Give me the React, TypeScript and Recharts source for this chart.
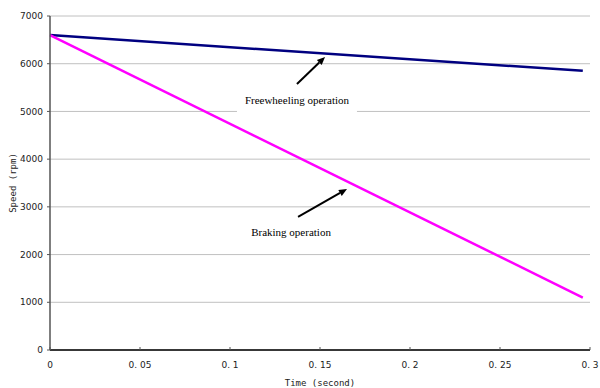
import { LineChart, Line, XAxis, YAxis, CartesianGrid, ReferenceLine } from "recharts";

const times = [0, 0.296];
const freewheeling = [6600, 5850];
const braking = [6600, 1100];
const xTicks = [0, 0.05, 0.1, 0.15, 0.2, 0.25, 0.3];
const yTicks = [0, 1000, 2000, 3000, 4000, 5000, 6000, 7000];

// annotation arrows: [x1, y1, x2, y2] in data units, plus label text
const notes = [
  { from: [0.1372, 5575], to: [0.1528, 6140], text: "Freewheeling operation", dx: 0, dy: 20, box: true },
  { from: [0.1378, 2790], to: [0.165, 3375], text: "Braking operation", dx: -7, dy: 19, box: false },
];

const data = times.map((t, i) => ({ t, free: freewheeling[i], brake: braking[i] }));

const arrowShape = (text: string, dx: number, dy: number, box: boolean) => (props: any) => {
  const { x1, y1, x2, y2 } = props;
  const ang = Math.atan2(y2 - y1, x2 - x1);
  const len = 8;
  const w = 3.5;
  const bx = x2 - len * Math.cos(ang);
  const by = y2 - len * Math.sin(ang);
  const px = -Math.sin(ang) * w;
  const py = Math.cos(ang) * w;
  return (
    <g>
      {box && <rect x={x1 + dx - 60} y={y1 + dy - 10} width={120} height={19} fill="#fff" />}
      <line x1={x1} y1={y1} x2={bx} y2={by} stroke="#000" strokeWidth={2} />
      <polygon points={`${x2},${y2} ${bx + px},${by + py} ${bx - px},${by - py}`} fill="#000" />
      <text
        x={x1 + dx}
        y={y1 + dy}
        textAnchor="middle"
        fontFamily="Liberation Serif"
        fontSize={11}
        fill="#000"
      >
        {text}
      </text>
    </g>
  );
};

export default function App() {
  return (
    <div style={{ position: "absolute", left: 0, top: 0, background: "#fff" }}>
      <LineChart width={600} height={388} data={data} margin={{ top: 16, right: 10, left: 0, bottom: 0 }}>
        <CartesianGrid horizontal vertical={false} stroke="#c0c0c0" />
        <XAxis
          dataKey="t"
          type="number"
          domain={[0, 0.3]}
          ticks={xTicks}
          height={38}
          axisLine={{ stroke: "#000", strokeWidth: 1.5 }}
          tickLine={{ stroke: "#555" }}
          tickSize={-3}
          tickMargin={15}
          tick={{ fontSize: 9, fill: "#222", fontFamily: "DejaVu Sans" }}
          tickFormatter={(v: number) => String(v).replace(".", ". ")}
          label={{
            value: "Time (second)",
            position: "insideBottom",
            offset: 2,
            style: { fontSize: 9, fill: "#222", fontFamily: "DejaVu Sans Mono" },
          }}
        />
        <YAxis
          type="number"
          domain={[0, 7000]}
          ticks={yTicks}
          width={50}
          axisLine={{ stroke: "#555", strokeWidth: 1.5 }}
          tickLine={{ stroke: "#555" }}
          tickSize={3}
          tickMargin={4}
          tick={{ fontSize: 9, fill: "#222", fontFamily: "DejaVu Sans" }}
          label={{
            value: "Speed (rpm)",
            angle: -90,
            position: "insideLeft",
            offset: 13,
            style: { textAnchor: "middle", fontSize: 9, fill: "#222", fontFamily: "DejaVu Sans Mono" },
          }}
        />
        <Line dataKey="free" stroke="#000080" strokeWidth={2.5} dot={false} isAnimationActive={false} />
        <Line dataKey="brake" stroke="#ff00ff" strokeWidth={2.5} dot={false} isAnimationActive={false} />
        {notes.map((n) => (
          <ReferenceLine
            key={n.text}
            segment={[
              { x: n.from[0], y: n.from[1] },
              { x: n.to[0], y: n.to[1] },
            ]}
            shape={arrowShape(n.text, n.dx, n.dy, n.box)}
          />
        ))}
      </LineChart>
    </div>
  );
}
